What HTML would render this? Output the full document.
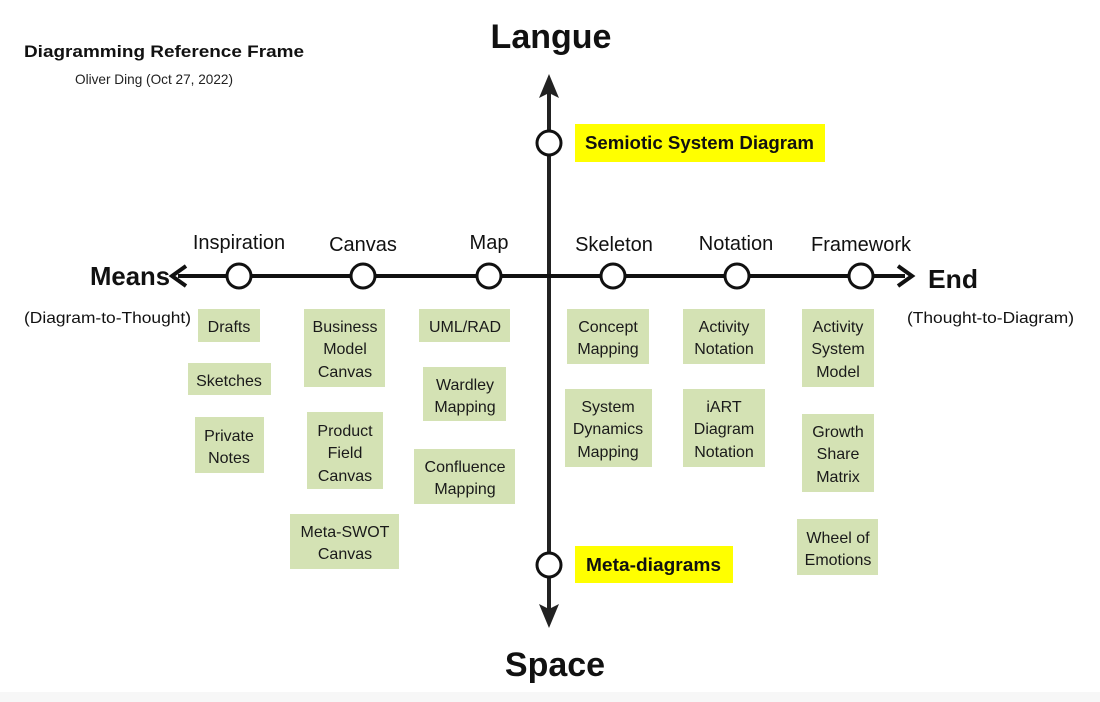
<!DOCTYPE html>
<html><head><meta charset="utf-8"><style>
html,body{margin:0;padding:0;background:#fff;}
svg{display:block;}
text{font-family:"Liberation Sans",sans-serif;}
.b{fill:#d4e2b4;}
.t{font-size:16px;fill:#1a1a1a;text-anchor:middle;}
.c{font-size:20px;fill:#111;text-anchor:middle;}
</style></head><body>
<svg width="1100" height="702" viewBox="0 0 1100 702" xmlns="http://www.w3.org/2000/svg">
<rect width="1100" height="702" fill="#fff"/>
<rect x="0" y="692" width="1100" height="10" fill="#f7f7f7"/>
<text x="24" y="57" font-size="17" font-weight="bold" fill="#111" textLength="280" lengthAdjust="spacingAndGlyphs">Diagramming Reference Frame</text>
<text x="75" y="84" font-size="14" fill="#222" textLength="158" lengthAdjust="spacingAndGlyphs">Oliver Ding (Oct 27, 2022)</text>
<text x="551" y="48" font-size="34" font-weight="bold" text-anchor="middle" fill="#111">Langue</text>
<text x="555" y="676" font-size="34" font-weight="bold" text-anchor="middle" fill="#111">Space</text>
<line x1="549" y1="90" x2="549" y2="612" stroke="#222" stroke-width="4"/>
<polygon points="549,74 539,98 549,93 559,98" fill="#222"/>
<polygon points="549,628 539,604 549,609 559,604" fill="#222"/>
<line x1="178" y1="276" x2="905" y2="276" stroke="#111" stroke-width="4"/>
<polyline points="186,266 172,276 186,286" fill="none" stroke="#111" stroke-width="4"/>
<polyline points="898,266 912,276 898,286" fill="none" stroke="#111" stroke-width="4"/>
<g fill="#fff" stroke="#111" stroke-width="3">
<circle cx="239" cy="276" r="12"/><circle cx="363" cy="276" r="12"/><circle cx="489" cy="276" r="12"/>
<circle cx="613" cy="276" r="12"/><circle cx="737" cy="276" r="12"/><circle cx="861" cy="276" r="12"/>
<circle cx="549" cy="143" r="12"/><circle cx="549" cy="565" r="12"/>
</g>
<text x="90" y="285" font-size="26" font-weight="bold" fill="#111" textLength="80" lengthAdjust="spacingAndGlyphs">Means</text>
<text x="928" y="288" font-size="26" font-weight="bold" fill="#111" textLength="50" lengthAdjust="spacingAndGlyphs">End</text>
<text x="24" y="323" font-size="16" fill="#111" textLength="167" lengthAdjust="spacingAndGlyphs">(Diagram-to-Thought)</text>
<text x="907" y="323" font-size="16" fill="#111" textLength="167" lengthAdjust="spacingAndGlyphs">(Thought-to-Diagram)</text>
<text class="c" x="239" y="249">Inspiration</text>
<text class="c" x="363" y="251">Canvas</text>
<text class="c" x="489" y="249">Map</text>
<text class="c" x="614" y="251">Skeleton</text>
<text class="c" x="736" y="250">Notation</text>
<text class="c" x="861" y="251">Framework</text>
<rect x="575" y="124" width="250" height="38" fill="#ffff00"/>
<text x="585" y="149" font-size="18" font-weight="bold" fill="#111" textLength="229" lengthAdjust="spacingAndGlyphs">Semiotic System Diagram</text>
<rect x="575" y="546" width="158" height="37" fill="#ffff00"/>
<text x="586" y="571" font-size="18" font-weight="bold" fill="#111" textLength="135" lengthAdjust="spacingAndGlyphs">Meta-diagrams</text>
<g class="b">
<rect x="198" y="309" width="62" height="33"/>
<rect x="188" y="363" width="83" height="32"/>
<rect x="195" y="417" width="69" height="56"/>
<rect x="304" y="309" width="81" height="78"/>
<rect x="307" y="412" width="76" height="77"/>
<rect x="290" y="514" width="109" height="55"/>
<rect x="419" y="309" width="91" height="33"/>
<rect x="423" y="367" width="83" height="54"/>
<rect x="414" y="449" width="101" height="55"/>
<rect x="567" y="309" width="82" height="55"/>
<rect x="565" y="389" width="87" height="78"/>
<rect x="683" y="309" width="82" height="55"/>
<rect x="683" y="389" width="82" height="78"/>
<rect x="802" y="309" width="72" height="78"/>
<rect x="802" y="414" width="72" height="78"/>
<rect x="797" y="519" width="81" height="56"/>
</g>
<g class="t">
<text x="229" y="332">Drafts</text>
<text x="229" y="386">Sketches</text>
<text x="229" y="441">Private</text><text x="229" y="463">Notes</text>
<text x="345" y="332">Business</text><text x="345" y="354">Model</text><text x="345" y="377">Canvas</text>
<text x="345" y="436">Product</text><text x="345" y="458">Field</text><text x="345" y="481">Canvas</text>
<text x="345" y="537">Meta-SWOT</text><text x="345" y="559">Canvas</text>
<text x="465" y="332">UML/RAD</text>
<text x="465" y="390">Wardley</text><text x="465" y="412">Mapping</text>
<text x="465" y="472">Confluence</text><text x="465" y="494">Mapping</text>
<text x="608" y="332">Concept</text><text x="608" y="354">Mapping</text>
<text x="608" y="412">System</text><text x="608" y="434">Dynamics</text><text x="608" y="457">Mapping</text>
<text x="724" y="332">Activity</text><text x="724" y="354">Notation</text>
<text x="724" y="412">iART</text><text x="724" y="434">Diagram</text><text x="724" y="457">Notation</text>
<text x="838" y="332">Activity</text><text x="838" y="354">System</text><text x="838" y="377">Model</text>
<text x="838" y="437">Growth</text><text x="838" y="459">Share</text><text x="838" y="482">Matrix</text>
<text x="838" y="543">Wheel of</text><text x="838" y="565">Emotions</text>
</g>
</svg>
</body></html>
